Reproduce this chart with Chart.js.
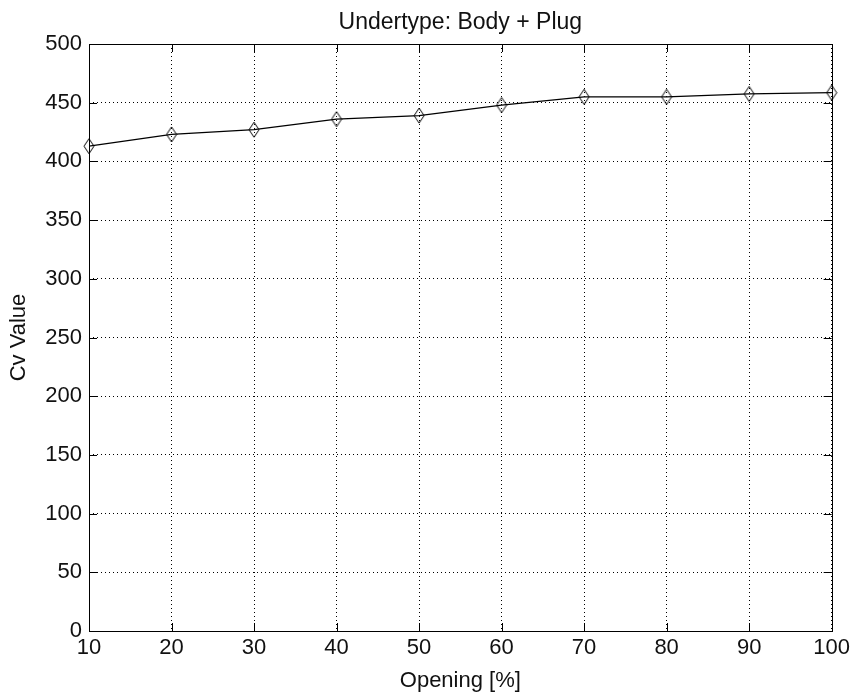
<!DOCTYPE html>
<html>
<head>
<meta charset="utf-8">
<style>
  html, body { margin: 0; padding: 0; background: #fff; }
  canvas { display: block; }
</style>
<script src="https://cdn.jsdelivr.net/npm/chart.js@4.4.1/dist/chart.umd.min.js"></script>
</head>
<body>
<canvas id="cv" width="854" height="696"></canvas>
<script>
// valve opening in percent and the measured Cv at each step
const openings = [10, 20, 30, 40, 50, 60, 70, 80, 90, 100];
const cvValues = [413, 423, 427, 436, 439, 448, 455, 455, 457.5, 458.5];

const xTicks = [10, 20, 30, 40, 50, 60, 70, 80, 90, 100];
const yTicks = [0, 50, 100, 150, 200, 250, 300, 350, 400, 450, 500];

const chartTitle = 'Undertype: Body + Plug';
const xLabel = 'Opening [%]';
const yLabel = 'Cv Value';

const fontFamily = '"Liberation Sans", Arial, Helvetica, sans-serif';
const textColor = '#111';

// hollow tall diamond marker
function diamondMarker() {
    const c = document.createElement('canvas');
    c.width = 12;
    c.height = 17;
    const g = c.getContext('2d');
    g.strokeStyle = '#000';
    g.lineWidth = 1;
    g.beginPath();
    g.moveTo(6, 1);
    g.lineTo(11, 8.5);
    g.lineTo(6, 16);
    g.lineTo(1, 8.5);
    g.closePath();
    g.stroke();
    return c;
}

// axes box, inward ticks on all four sides and the title
const boxPlugin = {
    id: 'box',
    beforeDatasetsDraw(chart) {
        const { ctx, chartArea: a, scales } = chart;
        const tl = 8;
        ctx.save();
        ctx.strokeStyle = '#000';
        ctx.lineWidth = 1;
        ctx.beginPath();
        xTicks.forEach(v => {
            const px = Math.round(scales.x.getPixelForValue(v)) + 0.5;
            ctx.moveTo(px, a.bottom);
            ctx.lineTo(px, a.bottom - tl);
            ctx.moveTo(px, a.top);
            ctx.lineTo(px, a.top + tl);
        });
        yTicks.forEach(v => {
            const py = Math.round(scales.y.getPixelForValue(v)) + 0.5;
            ctx.moveTo(a.left, py);
            ctx.lineTo(a.left + tl, py);
            ctx.moveTo(a.right, py);
            ctx.lineTo(a.right - tl, py);
        });
        ctx.stroke();
        ctx.strokeRect(Math.round(a.left) + 0.5, Math.round(a.top) + 0.5,
            Math.round(a.right - a.left), Math.round(a.bottom - a.top));
        ctx.restore();
    },
    afterDraw(chart) {
        const { ctx, chartArea: a } = chart;
        ctx.save();
        ctx.fillStyle = textColor;
        ctx.font = '23px ' + fontFamily;
        ctx.textAlign = 'center';
        ctx.textBaseline = 'alphabetic';
        ctx.fillText(chartTitle, (a.left + a.right) / 2, 29);
        ctx.restore();
    }
};

new Chart(document.getElementById('cv'), {
    type: 'line',
    data: {
        datasets: [{
            data: openings.map((x, i) => ({ x: x, y: cvValues[i] })),
            borderColor: '#000',
            borderWidth: 1.2,
            tension: 0,
            fill: false,
            clip: false,
            pointStyle: diamondMarker(),
            pointRadius: 6
        }]
    },
    options: {
        responsive: false,
        animation: false,
        layout: { padding: { top: 44, right: 22, left: 0, bottom: 0 } },
        plugins: {
            legend: { display: false },
            tooltip: { enabled: false },
            title: { display: false }
        },
        scales: {
            x: {
                type: 'linear',
                min: 10,
                max: 100,
                afterBuildTicks: s => { s.ticks = xTicks.map(v => ({ value: v })); },
                afterFit: s => { s.height = 65; },
                grid: { color: '#000', lineWidth: 1, drawTicks: false },
                border: { display: false, dash: [1, 3] },
                ticks: {
                    padding: 4,
                    color: textColor,
                    maxRotation: 0,
                    font: { family: fontFamily, size: 22 }
                },
                title: {
                    display: true,
                    text: xLabel,
                    color: textColor,
                    padding: { top: 0, bottom: 2 },
                    font: { family: fontFamily, size: 22 }
                }
            },
            y: {
                min: 0,
                max: 500,
                afterBuildTicks: s => { s.ticks = yTicks.map(v => ({ value: v })); },
                afterFit: s => { s.width = 89; },
                grid: { color: '#000', lineWidth: 1, drawTicks: false },
                border: { display: false, dash: [1, 3] },
                ticks: {
                    padding: 7,
                    color: textColor,
                    font: { family: fontFamily, size: 22 }
                },
                title: {
                    display: true,
                    text: yLabel,
                    color: textColor,
                    padding: { top: 6, bottom: 0 },
                    font: { family: fontFamily, size: 22 }
                }
            }
        }
    },
    plugins: [boxPlugin]
});
</script>
</body>
</html>
